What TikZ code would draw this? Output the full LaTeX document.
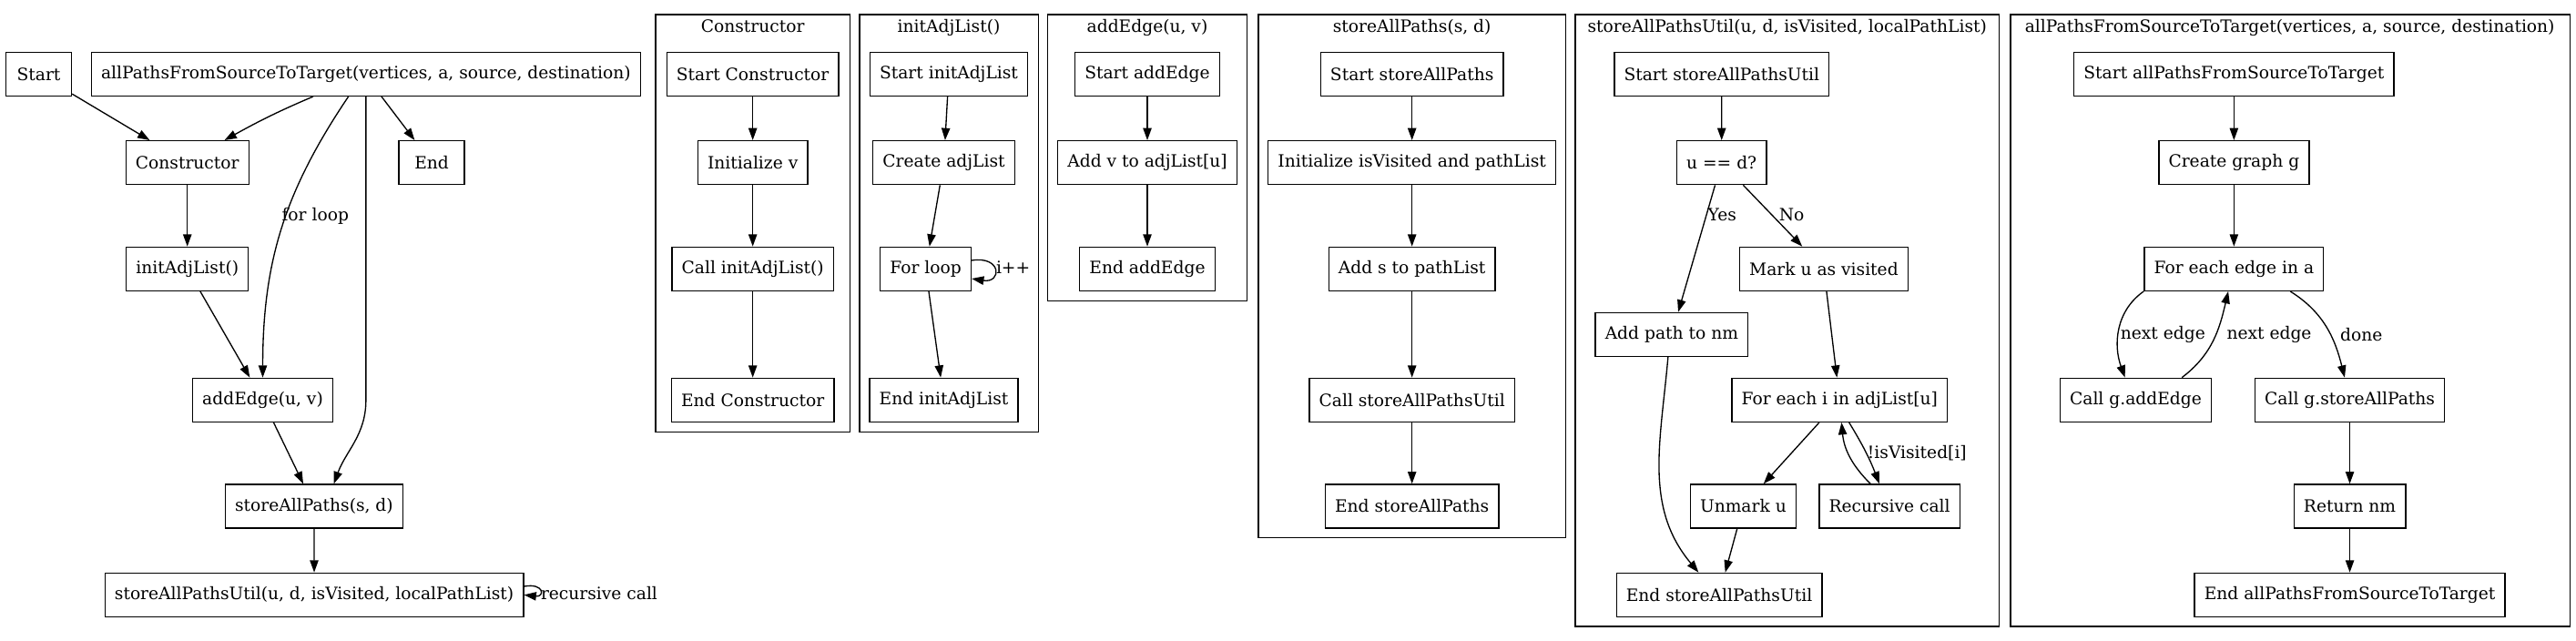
\documentclass[tikz,border=0pt]{standalone}
\usepackage{fontspec}
\setmainfont{DejaVu Serif}
\usetikzlibrary{arrows.meta,calc}

\begin{document}
\begin{tikzpicture}[x=1pt, y=-1pt, line width=1pt, font=\fontsize{14}{16}\selectfont,
        main/.style = {draw, rectangle, minimum width=54pt, minimum height=36pt, inner xsep=8pt},
        cluster/.style = {draw, rectangle, inner sep=0pt},
        title/.style = {anchor=base, inner sep=0pt},
        lbl/.style = {inner sep=0pt},
        >={Triangle[length=10pt, width=7pt]}]
        \useasboundingbox (0,0) rectangle (2121.75,527.25);
        %% Clusters
        \node[cluster, minimum width=160pt, minimum height=344pt] (k1) at (620,184) {};
        \node[cluster, minimum width=147.5pt, minimum height=344pt] (k2) at (781.75,184) {};
        \node[cluster, minimum width=164pt, minimum height=236pt] (k3) at (945,130) {};
        \node[cluster, minimum width=253pt, minimum height=431pt] (k4) at (1163,227.5) {};
        \node[cluster, minimum width=349pt, minimum height=504pt] (k5) at (1472,264) {};
        \node[cluster, minimum width=461pt, minimum height=504pt] (k6) at (1886.5,264) {};
        \node[title] (t1) at (620,27) {Constructor};
        \node[title] (t2) at (781.5,27) {initAdjList()};
        \node[title] (t3) at (945,27) {addEdge(u, v)};
        \node[title] (t4) at (1163,27) {storeAllPaths(s, d)};
        \node[title] (t5) at (1472,27) {storeAllPathsUtil(u, d, isVisited, localPathList)};
        \node[title] (t6) at (1886,27) {allPathsFromSourceToTarget(vertices, a, source, destination)};
        %% Main flow
        \node[main] (start) at (31.9,61) {Start};
        \node[main] (apst) at (301.4,61) {allPathsFromSourceToTarget(vertices, a, source, destination)};
        \node[main] (ctor) at (154.3,134) {Constructor};
        \node[main] (fin) at (355.6,134) {End};
        \node[main] (init) at (154.3,221.5) {initAdjList()};
        \node[main] (adde) at (216.4,329.5) {addEdge(u, v)};
        \node[main] (sap) at (258.7,417) {storeAllPaths(s, d)};
        \node[main] (sapu) at (258.8,490) {storeAllPathsUtil(u, d, isVisited, localPathList)};
        %% Constructor
        \node[main] (sc) at (620,61) {Start Constructor};
        \node[main] (iv) at (620,134) {Initialize v};
        \node[main] (cia) at (620,221.5) {Call initAdjList()};
        \node[main] (ec) at (620,329.5) {End Constructor};
        %% initAdjList
        \node[main] (sia) at (781.5,61) {Start initAdjList};
        \node[main] (cal) at (777.4,134) {Create adjList};
        \node[main] (fl) at (762.4,221.5) {For loop};
        \node[main] (eia) at (777.4,329.5) {End initAdjList};
        %% addEdge
        \node[main] (sae) at (945,61) {Start addEdge};
        \node[main] (avu) at (945,134) {Add v to adjList[u]};
        \node[main] (eae) at (945,221.5) {End addEdge};
        %% storeAllPaths
        \node[main] (ssp) at (1163,61) {Start storeAllPaths};
        \node[main] (ivp) at (1163,134) {Initialize isVisited and pathList};
        \node[main] (asp) at (1163,221.5) {Add s to pathList};
        \node[main] (csu) at (1163,329.5) {Call storeAllPathsUtil};
        \node[main] (esp) at (1163,417) {End storeAllPaths};
        %% storeAllPathsUtil
        \node[main] (ssu) at (1418.1,61) {Start storeAllPathsUtil};
        \node[main] (ud) at (1418,134) {u == d?};
        \node[main] (mv) at (1502.2,221.5) {Mark u as visited};
        \node[main] (apn) at (1376.9,275.5) {Add path to nm};
        \node[main] (fe) at (1515.2,329.5) {For each i in adjList[u]};
        \node[main] (um) at (1435.8,417) {Unmark u};
        \node[main] (rc) at (1556.3,417) {Recursive call};
        \node[main] (esu) at (1416,490) {End storeAllPathsUtil};
        %% allPathsFromSourceToTarget
        \node[main] (sft) at (1840,61) {Start allPathsFromSourceToTarget};
        \node[main] (cgg) at (1840,134) {Create graph g};
        \node[main] (fea) at (1840,221.5) {For each edge in a};
        \node[main] (cae) at (1759.1,329.5) {Call g.addEdge};
        \node[main] (csa) at (1935.4,329.5) {Call g.storeAllPaths};
        \node[main] (rnm) at (1935.4,417) {Return nm};
        \node[main] (eft) at (1935.4,490) {End allPathsFromSourceToTarget};
        %% Labels
        \node[lbl] (lfor) at (259.7,178) {for loop};
        \node[lbl, anchor=west] (lrec) at (445,489) {recursive call};
        \node[lbl, anchor=west] (lipp) at (820,220) {i++};
        \node[lbl] (lyes) at (1418.5,177) {Yes};
        \node[lbl] (lno) at (1475.7,177) {No};
        \node[lbl] (lvis) at (1579,373) {!isVisited[i]};
        \node[lbl] (lne1) at (1781.5,275.5) {next edge};
        \node[lbl] (lne2) at (1869,275.5) {next edge};
        \node[lbl] (ldone) at (1945,275.5) {done};
        %% Arrows
        \draw[->] (start) -- (ctor);
        \draw[->] ($(apst.south)+(-43.4,0)$) to[out=203, in=29] ($(ctor.north)+(30.6,0)$);
        \draw[->] ($(apst.south)+(-14.4,0)$) to[out=236, in=90] (adde.north);
        \draw[->] (apst.south) -- (apst.south |- adde) to[out=270, in=70] ($(sap.north)+(16.3,0)$);
        \draw[->] ($(apst.south)+(12.8,0)$) -- (fin);
        \draw[->] (ctor) -- (init);
        \draw[->] (init) -- (adde);
        \draw[->] (adde) -- (sap);
        \draw[->] (sap) -- (sapu);
        \draw[->] ($(sapu.east)+(0,-7)$) .. controls +(17,-3) and +(17,2) .. (sapu.east);
        \draw[->] (sc) -- (iv);
        \draw[->] (iv) -- (cia);
        \draw[->] (cia) -- (ec);
        \draw[->] (sia) -- (cal);
        \draw[->] (cal) -- (fl);
        \draw[->] (fl) -- (eia);
        \draw[->] ($(fl.east)+(0,-7)$) .. controls +(25,-4) and +(25,4) .. ($(fl.east)+(0,8)$);
        \draw[->] (sae) -- (avu);
        \draw[->] (avu) -- (eae);
        \draw[->] (ssp) -- (ivp);
        \draw[->] (ivp) -- (asp);
        \draw[->] (asp) -- (csu);
        \draw[->] (csu) -- (esp);
        \draw[->] (ssu) -- (ud);
        \draw[->] (ud) -- (apn);
        \draw[->] (ud) -- (mv);
        \draw[->] (mv) -- (fe);
        \draw[->] ($(apn.south)+(-3,0)$) to[out=265, in=130] ($(esu.north)+(-17,0)$);
        \draw[->] (fe) -- (um);
        \draw[->] ($(fe.south)+(7.8,0)$) to[bend left=5] ($(rc.north)+(-8.3,0)$);
        \draw[->] ($(rc.north)+(-15.7,0)$) to[bend left=20] ($(fe.south)+(1.6,0)$);
        \draw[->] (um) -- (esu);
        \draw[->] (sft) -- (cgg);
        \draw[->] (cgg) -- (fea);
        \draw[->] (fea.south west) to[out=215, in=110] ($(cae.north)+(-8.8,0)$);
        \draw[->] ($(cae.north)+(38,0)$) to[out=37, in=-103] ($(fea.south)+(-4.7,0)$);
        \draw[->] ($(fea.south)+(46.4,0)$) to[out=-32, in=104] ($(csa.north)+(-4.2,0)$);
        \draw[->] (csa) -- (rnm);
        \draw[->] (rnm) -- (eft);
\end{tikzpicture}
\end{document}
